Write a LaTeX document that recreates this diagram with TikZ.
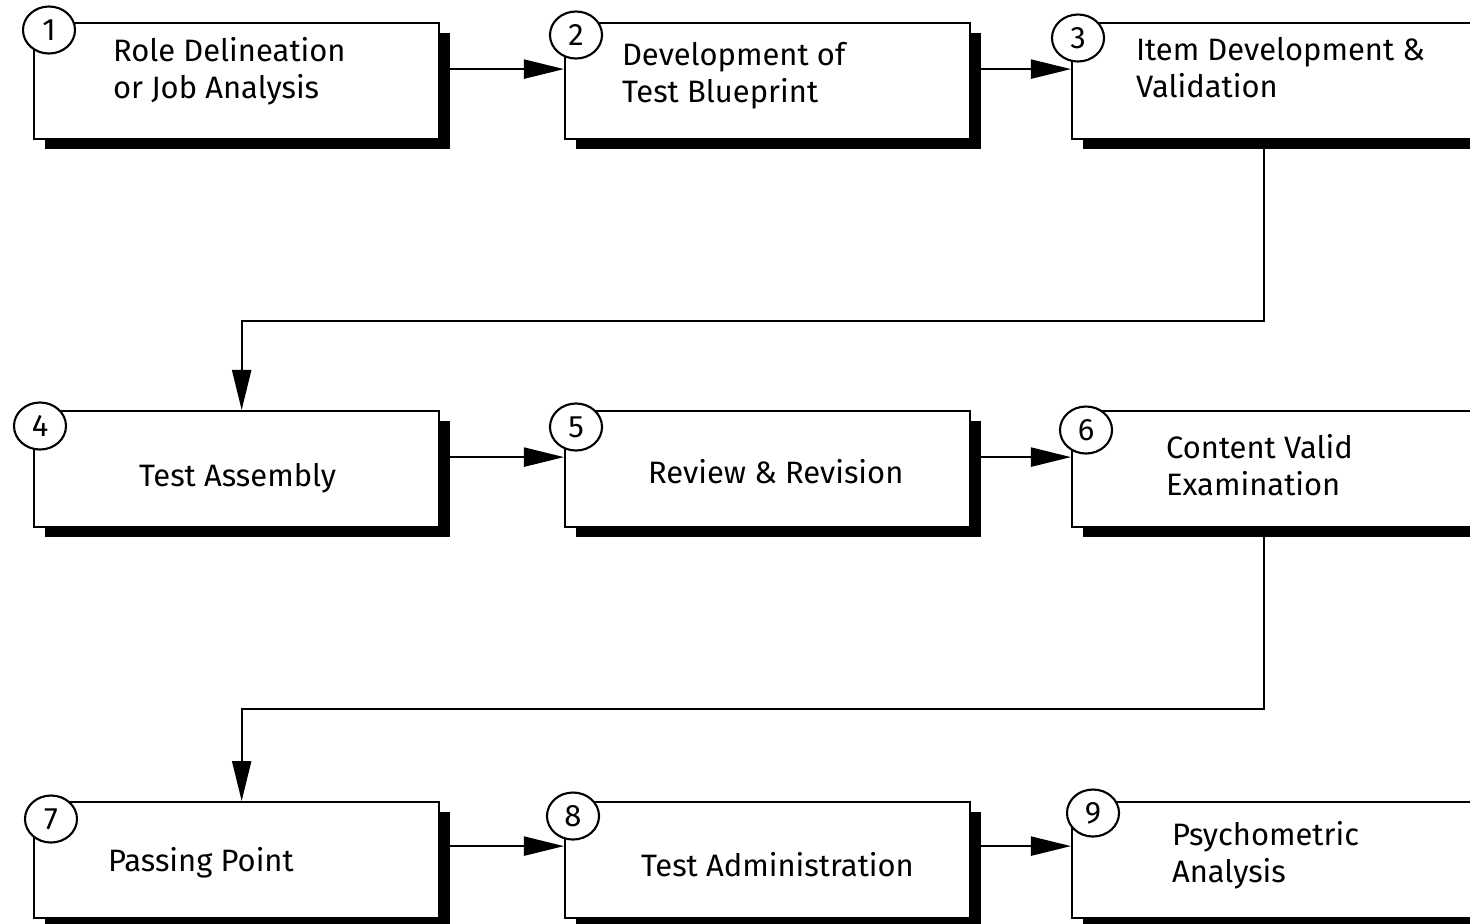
\documentclass[tikz,border=0pt]{standalone}
\usepackage{fontspec}
\setmainfont{Fira Sans}
\usetikzlibrary{arrows.meta,shapes.geometric,shadows}

\begin{document}
\begin{tikzpicture}[x=0.01cm,y=-0.01cm,line width=0.6pt,>={Triangle[length=0.4cm,width=0.19cm]},
    stage/.style={draw=black,fill=white,anchor=north west,minimum width=4.05cm,minimum height=1.16cm,
        drop shadow={shadow xshift=0.11cm,shadow yshift=-0.1cm,fill=black,opacity=1}},
    widestage/.style={stage,minimum width=5cm},
    num/.style={ellipse,draw=black,fill=white,inner sep=0pt,minimum width=0.52cm,minimum height=0.47cm,
        font=\fontsize{8.8}{9}\selectfont},
    caption/.style={anchor=west,align=left,inner sep=0pt,font=\fontsize{8.8}{10.5}\selectfont}]
\useasboundingbox (0,0) rectangle (1470,923);
\clip (0,0) rectangle (1470,923);
% boxes
\node[stage](s1)at(33,22){};
\node[stage](s2)at(564,22){};
\node[widestage](s3)at(1071,22){};
\node[stage](s4)at(33,410){};
\node[stage](s5)at(564,410){};
\node[widestage](s6)at(1071,410){};
\node[stage](s7)at(33,801){};
\node[stage](s8)at(564,801){};
\node[widestage](s9)at(1071,801){};
% texts
\node[caption](t1)at(112,71){Role Delineation\\or Job Analysis};
\node[caption](t2)at(621,76){Development of\\Test Blueprint};
\node[caption](t3)at(1135,68){Item Development \&\\Validation};
\node[caption](t4)at(138,478){Test Assembly};
\node[caption](t5)at(647,472){Review \& Revision};
\node[caption](t6)at(1165,465){Content Valid\\Examination};
\node[caption](t7)at(107,863){Passing Point};
\node[caption](t8)at(640,865){Test Administration};
\node[caption](t9)at(1171,855){Psychometric\\Analysis};
% connectors
\draw[->] ([yshift=0.12cm]s1.east) -- ([yshift=0.12cm]s2.west);
\draw[->] ([yshift=0.12cm]s2.east) -- ([yshift=0.12cm]s3.west);
\draw[->] ([yshift=0.12cm]s4.east) -- ([yshift=0.12cm]s5.west);
\draw[->] ([yshift=0.12cm]s5.east) -- ([yshift=0.12cm]s6.west);
\draw[->] ([yshift=0.14cm]s7.east) -- ([yshift=0.14cm]s8.west);
\draw[->] ([yshift=0.14cm]s8.east) -- ([yshift=0.14cm]s9.west);
\draw[->] ([xshift=1.93cm]s3.south west) -- ++(0,181) -| ([xshift=0.05cm]s4.north);
\draw[->] ([xshift=1.93cm]s6.south west) -- ++(0,181) -| ([xshift=0.05cm]s7.north);
% step numbers
\node[num](n1)at(49,30){1};
\node[num](n2)at(576,35){2};
\node[num](n3)at(1078,38){3};
\node[num](n4)at(40,426){4};
\node[num](n5)at(576,427){5};
\node[num](n6)at(1086,430){6};
\node[num](n7)at(51,819){7};
\node[num](n8)at(573,816){8};
\node[num](n9)at(1093,813){9};
\end{tikzpicture}
\end{document}
